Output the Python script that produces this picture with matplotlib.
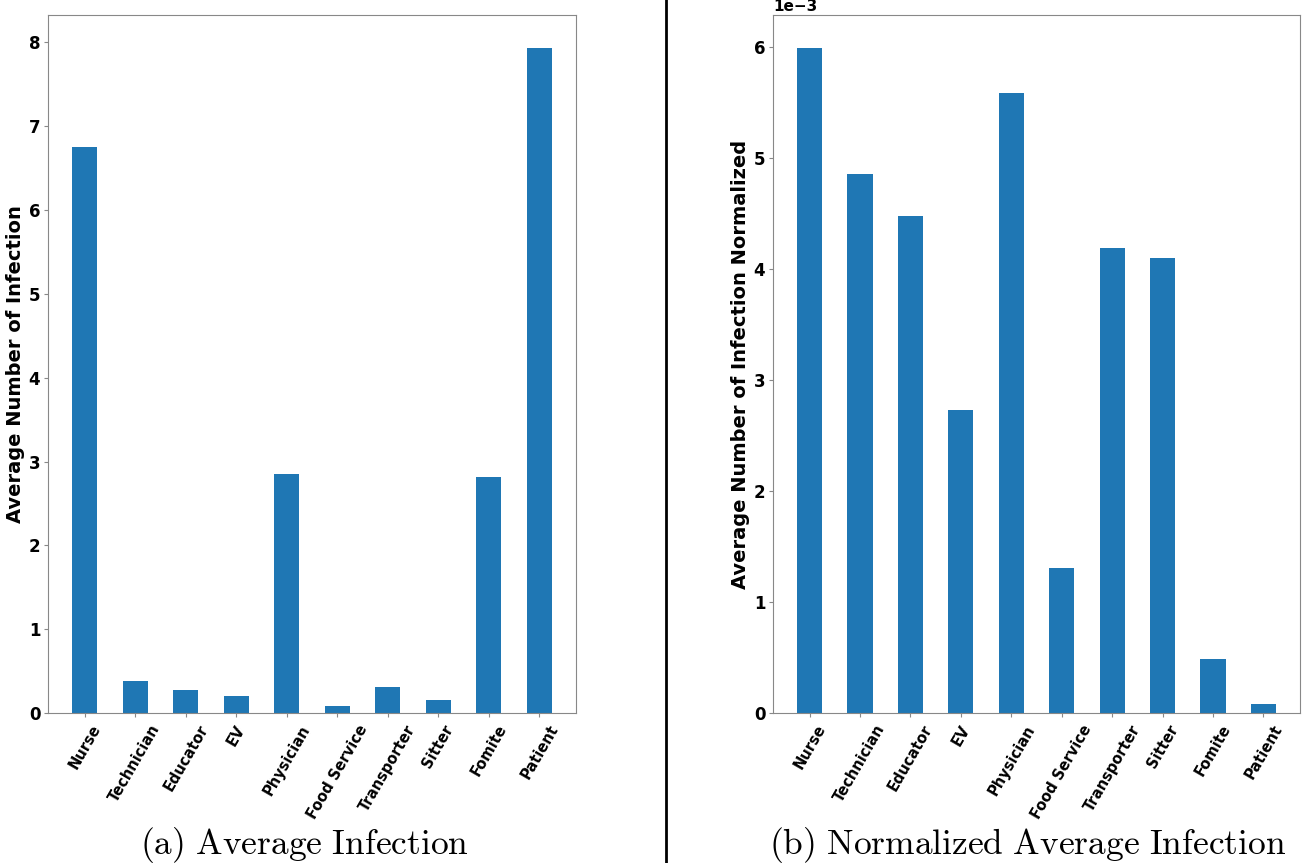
import matplotlib
matplotlib.use("Agg")
import matplotlib.pyplot as plt
from matplotlib.lines import Line2D

roles = ["Nurse", "Technician", "Educator", "EV", "Physician",
         "Food Service", "Transporter", "Sitter", "Fomite", "Patient"]
avg_infection = [6.75, 0.38, 0.27, 0.20, 2.85, 0.08, 0.31, 0.155, 2.81, 7.93]
norm_infection = [5.99e-3, 4.86e-3, 4.48e-3, 2.73e-3, 5.59e-3,
                  1.31e-3, 4.19e-3, 4.10e-3, 0.49e-3, 0.08e-3]

plt.rcParams["mathtext.fontset"] = "cm"
plt.rcParams["font.weight"] = "bold"

fig = plt.figure(figsize=(13.06, 8.63), dpi=100)
W, H = 1306, 863
ax1 = fig.add_axes([48 / W, 1 - 713 / H, 528 / W, 698 / H])
ax2 = fig.add_axes([773 / W, 1 - 713 / H, 527 / W, 698 / H])

panels = [
    (ax1, avg_infection, "Average Number of Infection",
     r"$\mathrm{(a)\ Average\ Infection}$", 304),
    (ax2, norm_infection, "Average Number of Infection Normalized",
     r"$\mathrm{(b)\ Normalized\ Average\ Infection}$", 1028),
]

for ax, vals, ylabel, caption, cap_x in panels:
    x = range(len(roles))
    ax.bar(x, vals, width=0.5, color="#1f77b4")
    ax.set_xticks(list(x))
    ax.set_xticklabels(roles, rotation=60, ha="center", fontsize=10.5, fontweight="bold")
    ax.tick_params(axis="y", labelsize=12, colors="#888888", labelcolor="black",
                   length=3, pad=2.5)
    ax.tick_params(axis="x", colors="#888888", labelcolor="black", length=3)
    for lab in ax.get_yticklabels():
        lab.set_fontweight("bold")
    for sp in ax.spines.values():
        sp.set_color("#888888")
    ax.set_ylabel(ylabel, fontsize=14, fontweight="bold", labelpad=3)
    # caption under each panel
    fig.text(cap_x / W, 1 - 845 / H, caption, ha="center", va="center", fontsize=25.5)

ax2.ticklabel_format(axis="y", style="sci", scilimits=(0, 0))
ax2.yaxis.get_offset_text().set_fontsize(11)
ax2.yaxis.get_offset_text().set_fontweight("bold")

# divider between the two panels
fig.add_artist(Line2D([666 / W, 666 / W], [0, 1], transform=fig.transFigure,
                      color="black", linewidth=2))

fig.savefig("out.png", dpi=100)
